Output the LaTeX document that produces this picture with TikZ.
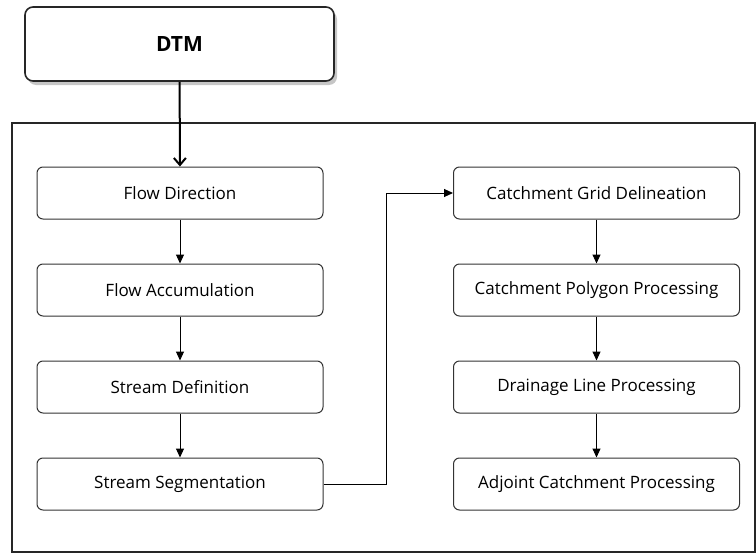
\documentclass[tikz,border=0pt]{standalone}
\usepackage{fontspec}
\setmainfont{Open Sans}
\usetikzlibrary{positioning,shadows,arrows.meta}

\begin{document}
\begin{tikzpicture}[x=1pt, y=-1pt, node distance=44pt,
    box/.style={draw=black!80, line width=1pt, rounded corners=6pt, minimum width=286pt, minimum height=52pt, font=\fontsize{17}{20}\selectfont},
    flow/.style={-{Triangle[length=9pt,width=8pt]}, line width=1pt}]
        \useasboundingbox (0,0) rectangle (756,554);
        % Frame
        \draw[black!85, line width=1.2pt] (12,123) rectangle (755,552);
        % Nodes
        \node (dtm) [draw=black!85, line width=1.6pt, rounded corners=8pt, fill=white, minimum width=309pt, minimum height=74pt, drop shadow={shadow xshift=3pt, shadow yshift=-4pt, opacity=0.45}, font=\fontsize{21}{24}\selectfont\bfseries] at (179.5,44) {DTM};
        \node (fdir) [box] at (180,193) {Flow Direction};
        \node (facc) [box, below=of fdir] {Flow Accumulation};
        \node (sdef) [box, below=of facc] {Stream Definition};
        \node (sseg) [box, below=of sdef] {Stream Segmentation};
        \node (cgrid) [box] at (596.5,193) {Catchment Grid Delineation};
        \node (cpoly) [box, below=of cgrid] {Catchment Polygon Processing};
        \node (dline) [box, below=of cpoly] {Drainage Line Processing};
        \node (adj) [box, below=of dline] {Adjoint Catchment Processing};

        % Edges
        \draw[-{Straight Barb[length=7pt,width=12pt]}, line width=2pt] (dtm) -- (fdir);
        \draw[flow] (fdir) -- (facc);
        \draw[flow] (facc) -- (sdef);
        \draw[flow] (sdef) -- (sseg);
        \draw[flow] (sseg.east) -- ++(63,0) |- (cgrid.west);
        \draw[flow] (cgrid) -- (cpoly);
        \draw[flow] (cpoly) -- (dline);
        \draw[flow] (dline) -- (adj);
    \end{tikzpicture}
\end{document}
